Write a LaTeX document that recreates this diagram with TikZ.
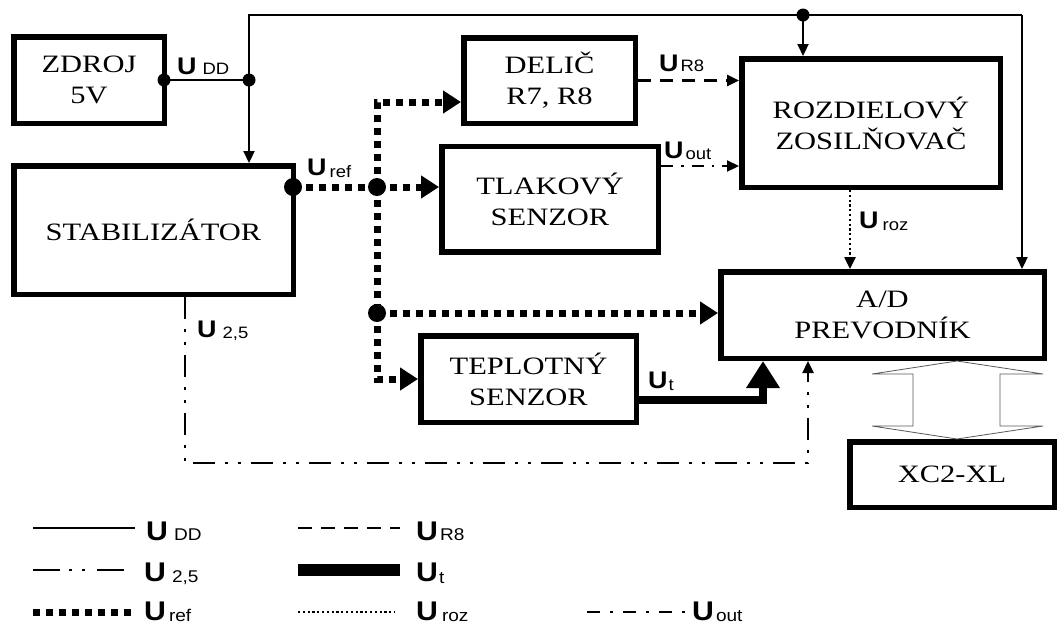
\documentclass[tikz,border=0pt]{standalone}
\usepackage{fontspec}
\setmainfont{Liberation Serif}
\newfontfamily\boxfont[FakeStretch=1.22]{Liberation Serif}
\newfontfamily\labfont[FakeStretch=1.12]{Liberation Sans}
\usetikzlibrary{arrows.meta}
\newcommand\UD[3]{{\fontsize{24}{24}\selectfont\bfseries U}\hspace{#1}\raisebox{#2}{\fontsize{16.5}{16.5}\selectfont #3}}
\newcommand\UL[3]{{\fontsize{27}{27}\selectfont\bfseries U}\hspace{#1}\raisebox{#2}{\fontsize{17}{17}\selectfont #3}}
\tikzset{
  x=1pt, y=-1pt,
  blk/.style={draw, line width=5.5pt, inner sep=0pt, align=center,
    font=\boxfont\fontsize{25}{31}\selectfont},
  lab/.style={font=\labfont, inner sep=0pt, anchor=base west},
  thintip/.style={-{Triangle[length=12pt,width=11pt]}},
  udd/.style={line width=2.2pt},
  ur8/.style={line width=2.5pt, dash pattern=on 13pt off 9pt},
  uout/.style={line width=2.2pt, dash pattern=on 12pt off 8pt on 2.5pt off 8pt},
  uroz/.style={line width=2.5pt, dash pattern=on 2.2pt off 2.6pt},
  u25/.style={line width=2.5pt, dash pattern=on 22pt off 10pt on 3pt off 10pt on 3pt off 10pt},
  uref/.style={line width=7pt, dash pattern=on 7pt off 6pt},
  reftip/.style={-{Triangle[length=18pt,width=22pt]}},
  ut/.style={line width=8pt},
  uttip/.style={-{Triangle[length=27pt,width=32pt]}},
}
\begin{document}
\begin{tikzpicture}
\useasboundingbox (0,0) rectangle (1057,625);
% A/D, XC2-XL and the hollow double arrow
\node[blk, minimum width=323.5pt, minimum height=86.5pt] (AD) at (882.5,315) {A/D\\PREVODNÍK};
\node[blk, minimum width=204.5pt, minimum height=65.5pt] (XC) at (952,474.5) {XC2-XL};
\coordinate (bx) at (957,0);
\draw[line width=0.8pt, draw=black!65, fill=white]
  (AD.south -| bx) -- (1043,374) -- (1000,374) -- (1000,426) -- (1043,426)
  -- (XC.north -| bx) -- (872,426) -- (913,426) -- (913,374) -- (872,374) -- cycle;
% blocks
\node[blk, minimum width=150.5pt, minimum height=86.5pt] (ZD) at (89,80) {ZDROJ\\5V};
\node[blk, minimum width=279.5pt, minimum height=128.5pt] (ST) at (153.5,230) {STABILIZÁTOR};
\node[blk, minimum width=171.5pt, minimum height=85.5pt] (DE) at (549.5,80.5) {DELIČ\\R7, R8};
\node[blk, minimum width=216.5pt, minimum height=105.5pt] (TL) at (550,199) {TLAKOVÝ\\SENZOR};
\node[blk, minimum width=258.5pt, minimum height=128.5pt] (RZ) at (871,123) {ROZDIELOVÝ\\ZOSILŇOVAČ};
\node[blk, minimum width=215.5pt, minimum height=86.5pt] (TE) at (528.5,379) {TEPLOTNÝ\\SENZOR};
% U_DD
\coordinate (d0) at (164,80);
\coordinate (j1) at (249,80);
\coordinate (jt) at (249,15);
\coordinate (j2) at (803,15);
\coordinate (jr) at (1022,15);
\draw[udd] (d0) -- (j1);
\draw[udd, thintip] (j1) -- (j1 |- ST.north);
\draw[udd] (j1) -- (jt) -- (j2) -- (jr);
\draw[udd, thintip] (jr) -- (jr |- AD.north);
\draw[udd, thintip] (j2) -- (j2 |- RZ.north);
\fill (d0) circle (6.5pt);
\fill (j1) circle (6.5pt);
\fill (j2) circle (6.5pt);
% U_ref
\coordinate (r0) at (293,187);
\coordinate (r1) at (377,187);
\coordinate (r3) at (377,102);
\coordinate (r2) at (377,313);
\coordinate (r4) at (377,379);
\draw[uref] (r0) -- (r1);
\draw[uref, reftip] (r1) -- (r1 -| TL.west);
\draw[uref, reftip] (r1) -- (r3) -- (r3 -| DE.west);
\draw[uref] (r1) -- (r2);
\draw[uref, reftip] (r2) -- (r2 -| AD.west);
\draw[uref, reftip] (r2) -- (r4) -- (r4 -| TE.west);
\fill (r0) circle (9pt);
\fill (r1) circle (9pt);
\fill (r2) circle (9pt);
% U_R8
\draw[ur8, thintip] (DE.east) -- (DE.east -| RZ.west);
% U_out
\coordinate (o1) at (661,166);
\draw[uout, thintip] (o1) -- (o1 -| RZ.west);
% U_roz
\coordinate (zx) at (850,0);
\draw[uroz, thintip] (RZ.south -| zx) -- (AD.north -| zx);
% U_t
\coordinate (t1) at (763,400);
\draw[ut, uttip] (t1 -| TE.east) -- (t1) -- (t1 |- AD.south);
% U_2,5
\coordinate (a1) at (185,463);
\coordinate (a2) at (808,463);
\draw[u25, thintip] (ST.south -| a1) -- (a1) -- (a2) -- (a2 |- AD.south);
% labels
\node[lab] (lDD) at (177,74) {\UD{6pt}{0pt}{DD}};
\node[lab] (lref) at (307,175) {\UD{3pt}{-2pt}{ref}};
\node[lab] (lR8) at (659,71) {\UD{2pt}{0pt}{R8}};
\node[lab] (lout) at (664,158) {\UD{2pt}{-1.5pt}{out}};
\node[lab] (lroz) at (859,228) {\UD{4pt}{-2pt}{roz}};
\node[lab] (l25) at (197,337) {\UD{6pt}{-1pt}{2,5}};
\node[lab] (lt) at (648,388) {\UD{1pt}{-2pt}{t}};
% legend
\draw[udd] (33,528) -- (135,528);
\node[lab] (gDD) at (146,540) {\UL{6pt}{0pt}{DD}};
\draw[ur8, dash pattern=on 14pt off 9pt] (298,528) -- (400,528);
\node[lab] (gR8) at (416,540) {\UL{2pt}{0pt}{R8}};
\draw[u25, dash pattern=on 27pt off 9pt on 3pt off 10pt on 3pt off 12pt] (33,570) -- (125,570);
\node[lab] (g25) at (144,581) {\UL{6pt}{-1pt}{2,5}};
\draw[line width=12pt] (298,570) -- (400,570);
\node[lab] (gt) at (416,581) {\UL{1pt}{-2pt}{t}};
\draw[uref] (33,612) -- (135,612);
\node[lab] (gref) at (144,620) {\UL{3pt}{-1.5pt}{ref}};
\draw[uroz, line width=2pt] (298,612) -- (395,612);
\node[lab] (groz) at (416,620) {\UL{4pt}{-1.5pt}{roz}};
\draw[uout, dash pattern=on 13pt off 10pt on 3pt off 10pt] (587,612) -- (690,612);
\node[lab] (gout) at (692,620) {\UL{2pt}{-1.5pt}{out}};
\end{tikzpicture}
\end{document}
